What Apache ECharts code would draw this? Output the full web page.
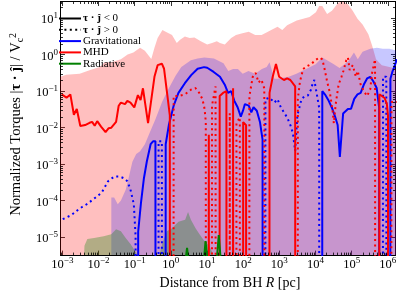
<!DOCTYPE html>
<html><head><meta charset="utf-8">
<script src="https://cdn.jsdelivr.net/npm/echarts@6/dist/echarts.min.js"></script>
<style>html,body{margin:0;padding:0;background:#fff}#c{width:399px;height:295px}</style>
</head><body><div id="c"></div>
<script>
// ---------- DATA (x given as log10 R [pc]) ----------
// MHD torque range (upper envelope of shaded band)
const mhdEnvLogR = [-3.06,-2.894,-2.523,-2.231,-1.966,-1.833,-1.647,-1.382,-1.196,-1.037,-0.851,-0.719,-0.541,-0.454,-0.366,-0.233,-0.143,0.032,0.164,0.255,0.387,0.520,0.653,0.828,1.005,1.138,1.271,1.358,1.491,1.668,1.801,1.979,2.154,2.332,2.509,2.684,2.775,2.950,3.082,3.215,3.480,3.658,3.836,4.011,4.101,4.188,4.321,4.454,4.631,4.764,4.897,5.029,5.162,5.302,5.462,5.568,5.674,5.833,6.045,6.25];
const mhdEnvVal  = [0.247,0.278,0.296,0.378,0.453,0.614,0.614,0.738,1.0,1.13,1.53,1.28,0.752,1.53,2.82,4.67,4.24,3.44,2.07,2.54,3.13,2.82,2.94,2.30,1.87,2.07,2.30,2.07,1.87,2.82,3.44,3.82,4.24,3.44,3.44,4.24,4.67,5.74,4.67,6.34,8.59,9.53,10.6,14.3,21.4,21.4,12.9,15.8,26.4,29.0,23.8,15.8,9.53,6.61,3.60,1.73,0.738,0.512,0.453,0.401];
// Gravitational torque range
const gravEnvLogR = [-1.647,-1.568,-1.469,-1.382,-1.249,-1.170,-1.064,-0.958,-0.851,-0.719,-0.586,-0.427,-0.241,-0.056,0.130,0.289,0.554,0.740,0.926,1.191,1.456,1.589,1.721,1.854,1.987,2.146,2.332,2.517,2.650,2.729,2.782,2.862,2.942,3.260,3.472,3.737,4.003,4.188,4.321,4.507,4.666,4.905,5.064,5.170,5.302,5.515,5.700,5.859,6.045,6.25];
const gravEnvVal  = [1.22e-4,1.22e-4,7.9e-5,1.01e-4,1.98e-4,4.1e-4,1.16e-3,1.88e-3,2.26e-3,3.47e-3,7.2e-3,0.0169,0.0506,0.119,0.262,0.453,0.693,0.783,0.834,0.783,0.578,0.355,0.401,0.401,0.296,0.355,0.296,0.401,0.453,0.614,0.578,0.218,0.218,0.247,0.296,0.401,0.543,0.834,0.693,0.543,0.427,0.653,1.13,0.738,1.20,1.44,1.53,1.44,1.44,1.28];
// Radiative torque range
const radEnvLogR = [-2.42,-2.39,-2.31,-2.125,-1.859,-1.647,-1.515,-1.382,-1.249,-1.117,-1.011,-0.905,-0.321,-0.241,-0.109,0.024,0.210,0.395,0.475,0.554,0.687,0.793,0.926,1.058,1.164,1.271];
const radEnvVal  = [1e-6,5.8e-6,8.9e-6,9.4e-6,1.06e-5,1.2e-5,1.63e-5,1.44e-5,9.4e-6,6.5e-6,4.5e-6,3.0e-6,3.0e-6,6.5e-6,1.44e-5,1.73e-5,2.65e-5,2.99e-5,4.9e-5,2.99e-5,1.73e-5,1.2e-5,7.8e-6,5.8e-6,3.5e-6,2.3e-6];

// Signed median torques tau.j / Vc^2 (negative -> solid, positive -> dotted)
const gravLogR = [-2.99,-2.753,-2.531,-2.310,-2.090,-1.912,-1.735,-1.560,-1.427,-1.294,-1.204,-1.117,-1.024,-0.976,
  -0.904,-0.825,-0.745,-0.666,-0.560,-0.493,-0.427,-0.340,-0.249,
  -0.143,-0.056,0.077,0.210,0.387,0.562,0.740,0.918,1.005,1.183,1.358,1.491,1.581,1.668,1.756,1.846,1.934,1.995,2.048,2.154,2.225,2.286,2.377,2.464,2.536,
  2.615,2.729,2.862,2.950,3.040,3.127,3.215,3.305,3.374,3.438,3.499,3.613,3.703,3.790,3.878,3.923,3.968,4.011,4.101,
  4.188,4.276,4.366,4.454,4.541,4.613,4.674,4.764,4.897,4.984,5.072,5.162,5.249,5.337,5.427,5.515,5.602,5.692,5.761,
  5.867,5.958,6.072,6.125,6.178,6.25];
const gravVal = [3.1e-5,4.0e-5,6.0e-5,8.1e-5,1.2e-4,1.65e-4,3.4e-4,4.6e-4,4.6e-4,4.1e-4,3.4e-4,2.0e-4,7.9e-5,1.07e-5,
  -1.4e-5,-9.0e-5,-4.1e-4,-1.16e-3,-3.5e-3,-4.2e-3,-4.2e-3,4.2e-3,4.2e-3,
  -3.5e-3,-0.0117,-0.0396,-0.089,-0.164,-0.273,-0.408,-0.453,-0.434,-0.334,-0.246,-0.149,-0.089,-0.099,-0.054,-0.036,-0.020,-0.029,-0.044,-0.040,-0.026,-0.036,-0.029,-0.0143,-0.0047,
  0.060,0.066,0.048,0.060,0.036,0.026,0.019,0.0117,0.0071,0.0023,0.0215,0.060,0.073,0.076,0.110,0.164,0.201,0.182,0.035,
  -0.099,-0.077,-0.054,-0.035,-0.020,-0.0117,-0.00157,-0.0243,-0.0324,-0.033,-0.061,-0.081,-0.089,-0.151,-0.222,-0.246,-0.182,-0.121,-0.035,
  0.246,0.246,-0.218,-0.334,-0.453,-0.74];

const mhdLogR = [-3.019,-2.886,-2.780,-2.682,-2.602,-2.504,-2.371,-2.249,-2.178,-2.106,-2.037,-1.931,-1.806,-1.719,-1.647,-1.515,-1.443,-1.382,-1.268,-1.204,-1.117,-1.011,-0.912,-0.838,-0.772,-0.631,-0.546,-0.454,-0.366,-0.249,-0.188,-0.101,-0.029,
  0.077,0.210,0.387,0.562,0.679,0.785,0.873,0.934,0.966,1.050,1.138,1.236,1.350,1.443,1.536,1.629,1.721,1.814,1.907,2.000,2.080,
  2.172,2.265,2.345,2.424,2.504,2.584,2.729,2.817,2.907,2.995,3.127,3.215,3.305,3.438,
  3.512,3.570,3.658,3.764,3.878,3.989,4.109,4.188,4.241,4.321,4.401,4.472,4.507,4.560,4.639,4.719,4.772,4.851,4.897,4.944,5.029,5.117,5.170,5.249,5.337,5.427,5.515,5.560,5.647,5.692,
  5.767,5.912,5.973,6.005,6.10,6.25];
const mhdVal = [-0.081,-0.066,-0.081,-0.0225,-0.0324,-0.0110,-0.0117,-0.0135,-0.0143,-0.0112,-0.0150,-0.0106,-0.0075,-0.0096,-0.0099,-0.0143,-0.0396,-0.0484,-0.044,-0.0537,-0.0484,-0.0357,-0.0774,-0.0571,-0.119,-0.0132,-0.0537,-0.246,-0.512,-0.561,-0.408,-0.082,-0.0215,
  0.073,0.073,0.081,0.110,0.121,0.089,0.060,0.032,0.0143,-0.0064,0.040,0.134,-0.073,-0.089,-0.099,0.0245,-0.119,0.0132,0.019,-0.0141,-0.0117,
  0.073,0.246,0.314,0.171,0.205,0.119,-0.089,-0.246,-0.553,-0.246,-0.201,-0.222,-0.201,-0.134,
  0.061,0.182,0.401,0.481,0.543,0.694,0.833,0.738,0.453,0.182,0.0875,0.0292,0.0132,0.0448,0.151,0.246,0.355,0.694,0.833,0.377,0.512,0.246,0.355,0.151,0.099,0.073,0.112,0.296,0.738,0.694,
  -0.082,-0.0645,-0.0448,-0.0215,0.05,0.05];

const radLogR = [0.36,0.448,0.53,0.88,0.96,1.04,1.24,1.324,1.41];
const radVal  = [-1e-6,-5.1e-6,-1e-6,-1e-6,-7.8e-6,-1e-6,-1e-6,-1.13e-5,-1e-6];

const xTickExp = [-3,-2,-1,0,1,2,3,4,5,6];
const yTickExp = [-5,-4,-3,-2,-1,0,1];

// ---------- BUILD ----------
const FONT = 'Liberation Serif';
const P = e => Math.pow(10, e);
const xMin = P(-3.053), xMax = P(6.212), yMin = P(-5.493), yMax = P(1.453);
const FLOOR = 1e-300; // stands for "no torque of this sign" on a log axis

const env = (lr, v) => lr.map((r, i) => [P(r), v[i]]);
const part = (lr, v, sign) => lr.map((r, i) => [P(r), sign < 0 ? (v[i] < 0 ? -v[i] : FLOOR) : (v[i] > 0 ? v[i] : FLOOR)]);
const supLabel = (exps) => (val) => {
  const e = Math.log10(val), r = Math.round(e);
  if (Math.abs(e - r) > 1e-6 || exps.indexOf(r) < 0) return '';
  return '{b|10}{s|' + (r < 0 ? '\u2212' + (-r) : r) + '}';
};
const tickRich = {
  b: {fontFamily: FONT, fontSize: 12.5, lineHeight: 13, padding: [4, 0, 0, 0], color: '#000'},
  s: {fontFamily: FONT, fontSize: 9, lineHeight: 9, verticalAlign: 'top', color: '#000'}
};
const DOT = [2, 3.4];

const minorX = [], minorY = [];
for (let e = -4; e <= 6; e++) for (let m = 2; m <= 9; m++) {
  const v = m * P(e);
  if (v > xMin && v < xMax) minorX.push([v, yMin]);
  if (v > yMin && v < yMax) minorY.push([xMin, v]);
}

function fillSeries(name, data, color) {
  return {name, type: 'line', data, showSymbol: false, symbol: 'none', silent: true,
    lineStyle: {width: 0, opacity: 0}, areaStyle: {color, opacity: 1, origin: 'start'}, z: 1};
}
function lineSeries(name, data, color, dotted) {
  return {name, type: 'line', data, showSymbol: false, symbol: 'none', silent: true, clip: true,
    lineStyle: {color, width: 2, type: dotted ? DOT : 'solid', cap: 'butt'}, z: 5};
}
function legendSeries(name, color, dotted) {
  return {name, type: 'line', data: [], symbol: 'none', itemStyle: {color},
    lineStyle: {color, width: 2, type: dotted ? DOT : 'solid'}};
}
function tickSeries(data, isX) {
  return {type: 'custom', data, silent: true, z: 10, clip: false,
    renderItem: (params, api) => {
      const p = api.coord([api.value(0), api.value(1)]);
      const c = params.coordSys, L = 2.5, st = {stroke: '#000', lineWidth: 0.8};
      if (isX) {
        const x = Math.round(p[0]) + 0.5;
        return {type: 'group', children: [
          {type: 'line', shape: {x1: x, y1: c.y + c.height, x2: x, y2: c.y + c.height - L}, style: st},
          {type: 'line', shape: {x1: x, y1: c.y, x2: x, y2: c.y + L}, style: st}]};
      }
      const y = Math.round(p[1]) + 0.5;
      return {type: 'group', children: [
        {type: 'line', shape: {x1: c.x, y1: y, x2: c.x + L, y2: y}, style: st},
        {type: 'line', shape: {x1: c.x + c.width, y1: y, x2: c.x + c.width - L, y2: y}, style: st}]};
    }};
}

const axisCommon = {
  axisLine: {show: true, lineStyle: {color: '#000', width: 1}},
  axisTick: {show: true, inside: true, length: 4.5, lineStyle: {color: '#000', width: 0.8}},
  splitLine: {show: false}, minorTick: {show: false}
};

const chart = echarts.init(document.getElementById('c'), null, {renderer: 'canvas'});
chart.setOption({
  animation: false,
  backgroundColor: '#fff',
  grid: {left: 47, right: 3, top: 1.5, bottom: 33, containLabel: false},
  xAxis: [
    Object.assign({type: 'log', logBase: 10, min: xMin, max: xMax, position: 'bottom',
      axisLabel: {formatter: supLabel(xTickExp), margin: 1, rich: tickRich, showMinLabel: false, showMaxLabel: false},
      name: '{n|Distance from BH }{i|R}{n| [pc]}', nameLocation: 'middle', nameGap: 15,
      nameTextStyle: {rich: {n: {fontFamily: FONT, fontSize: 14, color: '#000'}, i: {fontFamily: FONT, fontSize: 14, fontStyle: 'italic', color: '#000'}}, padding: [0, 0, 0, 4]}
    }, axisCommon),
    Object.assign({type: 'log', logBase: 10, min: xMin, max: xMax, position: 'top', axisLabel: {show: false}}, axisCommon)
  ],
  yAxis: [
    Object.assign({type: 'log', logBase: 10, min: yMin, max: yMax, position: 'left',
      axisLabel: {formatter: supLabel(yTickExp), margin: 2.5, rich: tickRich, showMinLabel: false, showMaxLabel: false},
      name: '{n|Normalized Torques }{n||}{b|\u03c4 \u00b7 \u0135}{n|| / V}{sub|c}{sup|2}', nameLocation: 'middle', nameGap: 29,
      nameTextStyle: {padding: [0, 0, 0, 8], rich: {
        n: {fontFamily: FONT, fontSize: 14.5, lineHeight: 17, color: '#000'},
        b: {fontFamily: FONT, fontSize: 14.5, lineHeight: 17, fontWeight: 'bold', color: '#000'},
        sub: {fontFamily: FONT, fontSize: 10, lineHeight: 10, verticalAlign: 'bottom', color: '#000'},
        sup: {fontFamily: FONT, fontSize: 10, lineHeight: 10, verticalAlign: 'top', color: '#000'}}}
    }, axisCommon),
    Object.assign({type: 'log', logBase: 10, min: yMin, max: yMax, position: 'right', axisLabel: {show: false}}, axisCommon)
  ],
  legend: {
    orient: 'vertical', left: 53, top: 8, itemWidth: 22, itemHeight: 10, itemGap: 0.3,
    selectedMode: false, itemStyle: {opacity: 0},
    data: ['neg', 'pos', 'Gravitational', 'MHD', 'Radiative'],
    formatter: n => n === 'neg' ? '{b|\u03c4 \u00b7 \u0135}{t| < 0}' : n === 'pos' ? '{b|\u03c4 \u00b7 \u0135}{t| > 0}' : '{t|' + n + '}',
    textStyle: {fontFamily: FONT, fontSize: 11, color: '#000', padding: [0, 0, 0, -3],
      rich: {b: {fontFamily: FONT, fontSize: 11, lineHeight: 10, fontWeight: 'bold', verticalAlign: 'middle', color: '#000'},
             t: {fontFamily: FONT, fontSize: 11, lineHeight: 10, verticalAlign: 'middle', color: '#000'}}}
  },
  series: [
    fillSeries('mhdRange', env(mhdEnvLogR, mhdEnvVal), 'rgba(255,0,0,0.25)'),
    fillSeries('gravRange', env(gravEnvLogR, gravEnvVal), 'rgba(0,0,255,0.22)'),
    fillSeries('radRange', env(radEnvLogR, radEnvVal), 'rgba(0,128,0,0.3)'),
    lineSeries('gravNeg', part(gravLogR, gravVal, -1), '#0000ff', false),
    lineSeries('gravPos', part(gravLogR, gravVal, 1), '#0000ff', true),
    lineSeries('mhdNeg', part(mhdLogR, mhdVal, -1), '#ff0000', false),
    lineSeries('mhdPos', part(mhdLogR, mhdVal, 1), '#ff0000', true),
    lineSeries('radNeg', part(radLogR, radVal, -1), '#008000', false),
    lineSeries('radPos', part(radLogR, radVal, 1), '#008000', true),
    legendSeries('neg', '#000', false),
    legendSeries('pos', '#000', true),
    legendSeries('Gravitational', '#0000ff', false),
    legendSeries('MHD', '#ff0000', false),
    legendSeries('Radiative', '#008000', false),
    tickSeries(minorX, true),
    tickSeries(minorY, false)
  ]
});
</script>
</body></html>
